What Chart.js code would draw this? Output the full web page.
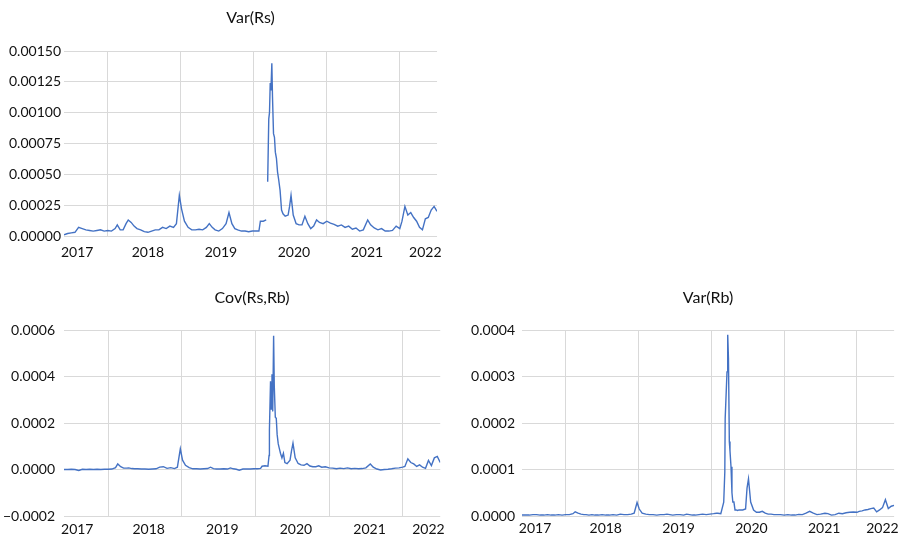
<!DOCTYPE html>
<html>
<head>
<meta charset="utf-8">
<script src="https://cdn.jsdelivr.net/npm/chart.js@4.4.0/dist/chart.umd.min.js"></script>
<style>
  body { margin: 0; background: #fff; }
  canvas { position: absolute; }
</style>
</head>
<body>
<canvas id="c-rs" width="450" height="270" style="left:0px;top:0px"></canvas>
<canvas id="c-cov" width="450" height="257" style="left:0px;top:280px"></canvas>
<canvas id="c-rb" width="453" height="257" style="left:450px;top:280px"></canvas>
<script>
// dates as decimal years
const dates = [
  2017.40, 2017.45, 2017.50, 2017.55, 2017.60, 2017.65, 2017.70, 2017.75, 2017.80, 2017.85, 2017.90, 2017.95,
  2018.00, 2018.05, 2018.10, 2018.13, 2018.17, 2018.21, 2018.25, 2018.28, 2018.32, 2018.36, 2018.40, 2018.45,
  2018.50, 2018.55, 2018.60, 2018.65, 2018.70, 2018.75, 2018.80, 2018.85, 2018.90, 2018.94, 2018.98,
  2019.01, 2019.05, 2019.10, 2019.15, 2019.20, 2019.25, 2019.30, 2019.35, 2019.39, 2019.43, 2019.47, 2019.52,
  2019.57, 2019.62, 2019.66, 2019.70, 2019.74, 2019.78, 2019.83, 2019.88, 2019.93, 2019.98,
  2020.03, 2020.07, 2020.09, 2020.13, 2020.17, 2020.185, 2020.19, 2020.205, 2020.215, 2020.225, 2020.235,
  2020.247, 2020.256, 2020.27, 2020.283, 2020.295, 2020.31, 2020.325, 2020.34, 2020.36, 2020.38, 2020.40,
  2020.43, 2020.47, 2020.49, 2020.51, 2020.54, 2020.58, 2020.62, 2020.66, 2020.70, 2020.74, 2020.78, 2020.82,
  2020.86, 2020.90, 2020.95,
  2021.00, 2021.05, 2021.10, 2021.15, 2021.20, 2021.25, 2021.30, 2021.35, 2021.40, 2021.45, 2021.50, 2021.56,
  2021.60, 2021.65, 2021.70, 2021.75, 2021.80, 2021.85, 2021.90, 2021.95,
  2022.00, 2022.03, 2022.07, 2022.11, 2022.15, 2022.19, 2022.23, 2022.27, 2022.31, 2022.35, 2022.39, 2022.43,
  2022.47, 2022.51
];

const varRs = [
  0.00001, 0.00002, 0.000025, 0.00003, 0.00007, 0.00006, 0.00005, 0.000045, 0.00004, 0.000045, 0.00005, 0.00004,
  0.000045, 0.00004, 0.00006, 0.00009, 0.00005, 0.00005, 0.0001, 0.00013, 0.00011, 0.00008, 0.00006, 0.00005,
  0.000035, 0.00003, 0.00004, 0.00005, 0.00005, 0.00007, 0.00006, 0.00008, 0.00007, 0.0001, 0.00033,
  0.00022, 0.00012, 0.00007, 0.00005, 0.00005, 0.000055, 0.00005, 0.00007, 0.0001, 0.00007, 0.00005, 0.00004,
  0.00006, 0.0001, 0.00019, 0.0001, 0.00006, 0.00005, 0.00004, 0.00004, 0.000035, 0.00004,
  0.00004, 0.00004, 0.00012, 0.00012, 0.00013, null, 0.00044, 0.00095, 0.001, 0.00124, 0.00118,
  0.0014, 0.00113, 0.00083, 0.0008, 0.00068, 0.00063, 0.00052, 0.00046, 0.00037, 0.00021, 0.00018,
  0.00016, 0.00017, 0.00024, 0.00033, 0.00017, 0.0001, 0.00009, 0.00009, 0.00016, 0.0001, 0.00006, 0.00008,
  0.00013, 0.00011, 0.0001,
  0.00012, 0.000105, 0.000095, 0.00008, 0.00009, 0.00007, 0.00008, 0.000055, 0.000065, 0.00004, 0.00005, 0.00013,
  0.00009, 0.000065, 0.00005, 0.00006, 0.00004, 0.00004, 0.000045, 0.00008,
  0.00006, 0.00012, 0.00024, 0.00017, 0.00019, 0.00015, 0.00012, 0.00007, 0.00005, 0.00014, 0.00015, 0.00021,
  0.00024, 0.0002
];

const covRsRb = [
  0, 0, 0.000001, 0, -0.000004, 0.000001, 0, 0.000001, 0, 0.000001, 0, 0.000001,
  0.000001, 0.000002, 0.000008, 0.000024, 0.000012, 0.000006, 0.000006, 0.000007, 0.000004, 0.000003, 0.000003, 0.000002,
  0.000002, 0.000001, 0.000002, 0.000003, 0.00001, 0.000012, 0.000005, 0.000008, 0.000004, 0.00001, 0.000089,
  0.00004, 0.000018, 0.000008, 0.000003, 0.000003, 0.000002, 0.000003, 0.000004, 0.00001, 0.000004, 0.000002, 0.000002,
  0.000003, 0.000002, 0.000007, 0.000003, 0.000001, -0.000003, 0.000002, 0.000002, 0.000002, 0.000003,
  0.000003, 0.000005, 0.000014, 0.000016, 0.000014, 0.00006, 0.00017, 0.00038, 0.00026, 0.00041, 0.00025,
  0.000575, 0.00036, 0.000225, 0.00022, 0.00015, 0.00011, 0.00009, 0.00007, 0.00005, 0.00007, 0.00003,
  0.000025, 0.00004, 0.00008, 0.000113, 0.00005, 0.000026, 0.00002, 0.000018, 0.000025, 0.000015, 0.000012, 0.000012,
  0.000016, 0.00001, 0.000012,
  0.000007, 0.000006, 0.000003, 0.000006, 0.000004, 0.000007, 0.000003, 0.000005, 0.000003, 0.000004, 0.000007, 0.000024,
  0.00001, 0.000002, -0.000002, 0, 0.000001, 0.000003, 0.000006, 0.000007,
  0.00001, 0.000013, 0.000046, 0.00003, 0.000024, 0.000013, 0.00002, 0.00001, 0.000005, 0.000039, 0.000017, 0.00005,
  0.000056, 0.00003
];

const varRb = [
  0.000002, 0.000002, 0.000002, 0.000003, 0.000003, 0.000002, 0.000002, 0.000003, 0.000002, 0.000002, 0.000003, 0.000002,
  0.000003, 0.000003, 0.000005, 0.000009, 0.000006, 0.000004, 0.000003, 0.000003, 0.000002, 0.000003, 0.000002, 0.000002,
  0.000003, 0.000002, 0.000002, 0.000003, 0.000002, 0.000004, 0.000003, 0.000003, 0.000004, 0.000006, 0.000029,
  0.000015, 0.000006, 0.000004, 0.000003, 0.000003, 0.000002, 0.000003, 0.000003, 0.000004, 0.000003, 0.000002, 0.000003,
  0.000003, 0.000002, 0.000004, 0.000003, 0.000002, 0.000002, 0.000003, 0.000004, 0.000003, 0.000004,
  0.000005, 0.000006, 0.000006, 0.000005, 0.00003, 0.000095, 0.00021, 0.00027, 0.00031, 0.00039, 0.00034,
  0.00016, 0.00014, 0.000106, 0.00005, 0.00003, 0.00003, 0.000013, 0.000013, 0.000012, 0.000013, 0.000013,
  0.000013, 0.000015, 0.00006, 0.00008, 0.00003, 0.000013, 0.000008, 0.000008, 0.00001, 0.000006, 0.000004, 0.000004,
  0.000003, 0.000003, 0.000003,
  0.000002, 0.000003, 0.000002, 0.000002, 0.0000035, 0.000003, 0.000006, 0.00001, 0.000006, 0.000003, 0.000004, 0.000006,
  0.000005, 0.000002, 0.000003, 0.000006, 0.000005, 0.000007, 0.000008, 0.0000085,
  0.000008, 0.00001, 0.000011, 0.000013, 0.000014, 0.000016, 0.000017, 0.000009, 0.000013, 0.000018, 0.000035, 0.000016,
  0.000021, 0.000023
];

const yearLines = [2018, 2019, 2020, 2021, 2022];
const yearLabels = ['2017', '2018', '2019', '2020', '2021', '2022'];
const yearLabelAt = [2017.58, 2018.55, 2019.55, 2020.55, 2021.55, 2022.35];

const FONT = 'Lato, "Open Sans", sans-serif';
const GRID = '#d9d9d9';

function makeChart(id, title, values, y, box) {
  const pts = dates.map((t, i) => ({ x: t, y: values[i] }));
  new Chart(document.getElementById(id), {
    type: 'line',
    data: {
      datasets: [{
        data: pts,
        borderColor: '#4472c4',
        borderWidth: 1.4,
        pointRadius: 0,
        tension: 0,
        spanGaps: false
      }]
    },
    options: {
      responsive: false,
      animation: false,
      layout: { padding: { left: 0, right: box.padRight, top: 0, bottom: 0 } },
      plugins: {
        legend: { display: false },
        tooltip: { enabled: false },
        title: {
          display: true,
          text: title,
          fullSize: false,
          color: '#111',
          font: { family: FONT, size: 16, weight: 'normal' },
          padding: { top: 8, bottom: box.titleGap }
        }
      },
      scales: {
        x: {
          type: 'linear',
          min: 2017.4,
          max: 2022.51,
          afterBuildTicks: s => {
            s.ticks = yearLines.concat(yearLabelAt).sort((a, b) => a - b).map(v => ({ value: v }));
          },
          afterFit: s => { s.height = box.xHeight; },
          border: { display: false },
          grid: {
            drawTicks: false,
            color: c => Number.isInteger(c.tick.value) ? GRID : 'rgba(0,0,0,0)'
          },
          ticks: {
            autoSkip: false,
            maxRotation: 0,
            padding: box.xPad,
            color: '#111',
            font: { family: FONT, size: 14 },
            callback: v => {
              const k = yearLabelAt.indexOf(v);
              return k >= 0 ? yearLabels[k] : '';
            }
          }
        },
        y: {
          min: y.min,
          max: y.max,
          afterFit: s => { s.width = box.yWidth; },
          border: { display: false },
          grid: {
            drawTicks: false,
            color: c => (c.tick.value === 0 && y.min < 0) ? '#bfbfbf' : GRID
          },
          ticks: {
            stepSize: y.step,
            padding: box.yPad,
            color: '#111',
            font: { family: FONT, size: 14 },
            callback: v => {
              const s = Math.abs(v).toFixed(y.digits);
              return v < -1e-12 ? '\u2212' + s : s;
            }
          }
        }
      }
    }
  });
}

makeChart('c-rs', 'Var(Rs)', varRs,
  { min: 0, max: 0.0015, step: 0.00025, digits: 5 },
  { yWidth: 64, yPad: 3, xHeight: 34, xPad: 8, titleGap: 23.8, padRight: 8 });

makeChart('c-cov', 'Cov(Rs,Rb)', covRsRb,
  { min: -0.0002, max: 0.0006, step: 0.0002, digits: 4 },
  { yWidth: 64, yPad: 9, xHeight: 21, xPad: 5, titleGap: 22.8, padRight: 8 });

makeChart('c-rb', 'Var(Rb)', varRb,
  { min: 0, max: 0.0004, step: 0.0001, digits: 4 },
  { yWidth: 72, yPad: 7, xHeight: 21, xPad: 4, titleGap: 22.8, padRight: 3 });
</script>
</body>
</html>
